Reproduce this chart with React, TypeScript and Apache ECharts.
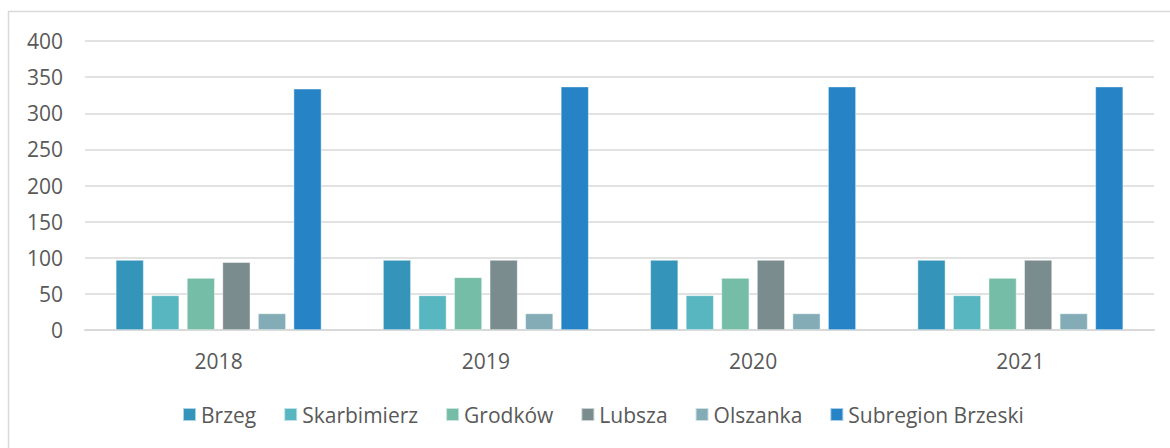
import React, { useEffect, useRef } from "react";
import * as echarts from "echarts";

const categories = ["2018", "2019", "2020", "2021"];
const seriesNames = ["Brzeg", "Skarbimierz", "Grodków", "Lubsza", "Olszanka", "Subregion Brzeski"];
const brzeg = [97, 97, 97, 97];
const skarbimierz = [48, 48, 48, 48];
const grodkow = [72, 73, 72, 72];
const lubsza = [94, 97, 97, 97];
const olszanka = [23, 23, 23, 23];
const subregion = [334, 337, 337, 337];
const colors = ["#3494BA", "#58B6C0", "#75BDA7", "#7A8C8E", "#84ACB6", "#2683C6"];
const yTicks = { min: 0, max: 400, interval: 50 };

export default function App() {
  const ref = useRef<HTMLDivElement>(null);
  useEffect(() => {
    if (!ref.current) return;
    const chart = echarts.init(ref.current, undefined, { renderer: "svg" });
    const values = [brzeg, skarbimierz, grodkow, lubsza, olszanka, subregion];
    const font = "'Open Sans', sans-serif";
    chart.setOption({
      animation: false,
      color: colors,
      textStyle: { fontFamily: font },
      graphic: [
        {
          type: "rect",
          shape: { x: 8.5, y: 11.5, width: 1200, height: 500 },
          style: { fill: "none", stroke: "#d9d9d9", lineWidth: 1.5 },
          silent: true,
        },
      ],
      grid: { left: 85, right: 16, top: 41, bottom: 118, containLabel: false },
      legend: {
        data: seriesNames,
        top: 399,
        left: 177,
        padding: 5,
        itemWidth: 13,
        itemHeight: 13,
        itemGap: 27,
        icon: "rect",
        textStyle: { color: "#595959", fontSize: 21, fontFamily: font },
      },
      xAxis: {
        type: "category",
        data: categories,
        axisLine: { show: true, lineStyle: { color: "#d9d9d9", width: 2 } },
        axisTick: { show: false },
        axisLabel: { color: "#595959", fontSize: 21, margin: 20, fontFamily: font },
      },
      yAxis: {
        type: "value",
        min: yTicks.min,
        max: yTicks.max,
        interval: yTicks.interval,
        axisLine: { show: false },
        axisTick: { show: false },
        axisLabel: { color: "#595959", fontSize: 21, margin: 22, fontFamily: font },
        splitLine: { lineStyle: { color: "#d9d9d9", width: 1.5 } },
      },
      series: seriesNames.map((name, i) => ({
        name,
        type: "bar",
        data: values[i],
        barCategoryGap: "23%",
        barGap: "27%",
        itemStyle: { color: colors[i], borderColor: "rgba(255,255,255,0.6)", borderWidth: 0.75 },
      })),
    });
    return () => chart.dispose();
  }, []);
  return (
    <div
      ref={ref}
      style={{ position: "absolute", left: 0, top: 0, width: 1170, height: 448, background: "#fff" }}
    />
  );
}
